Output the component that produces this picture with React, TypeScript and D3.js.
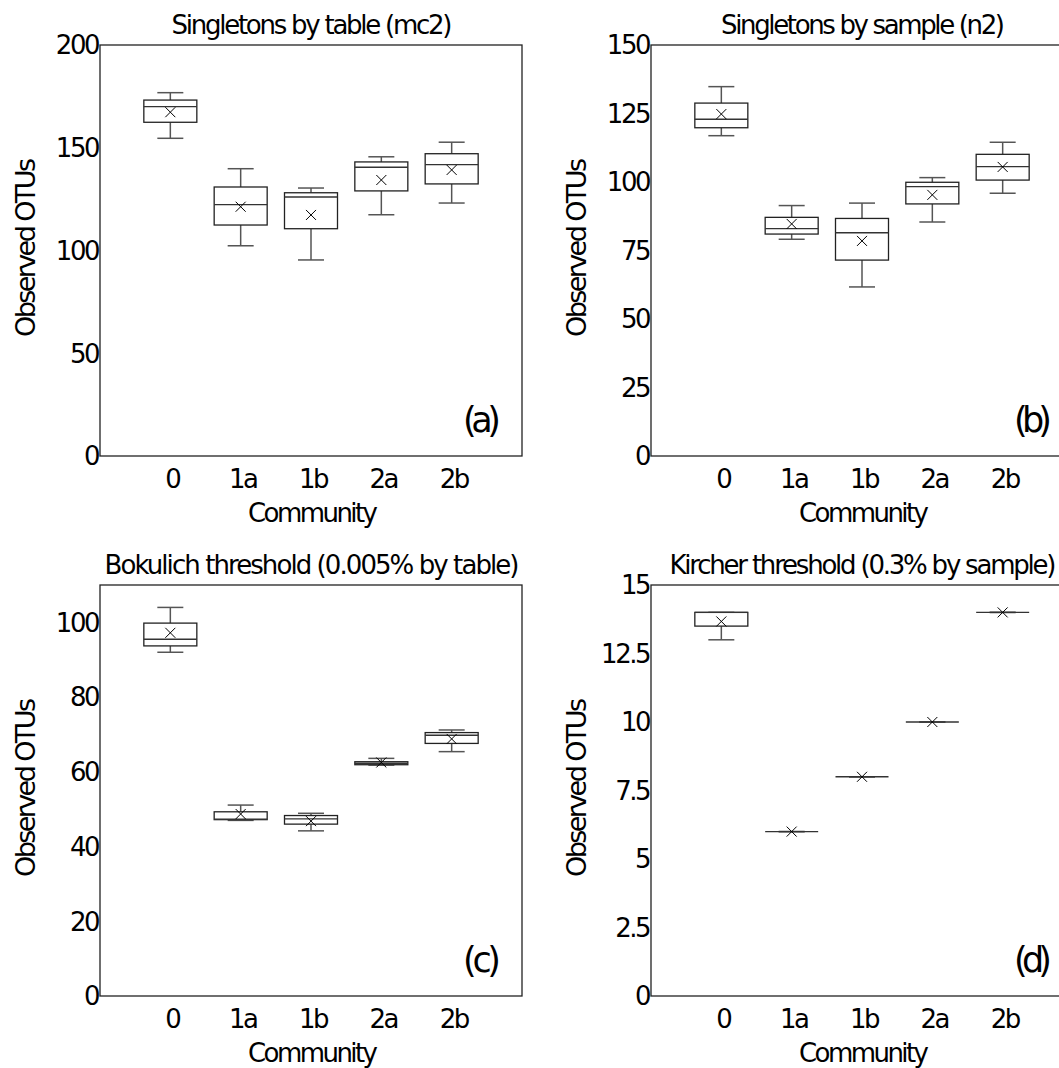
import React from "react";
import * as d3 from "d3";

const categories = ["0", "1a", "1b", "2a", "2b"];

// Panel (a) Singletons by table (mc2)
const aMin = [154.6, 102.3, 95.4, 117.4, 123.1];
const aQ1 = [162.4, 112.4, 110.6, 129.0, 132.4];
const aMed = [170.0, 122.3, 126.0, 140.5, 141.8];
const aQ3 = [173.2, 130.9, 128.1, 143.1, 147.1];
const aMax = [176.8, 139.8, 130.4, 145.6, 152.7];
const aMean = [167.3, 121.3, 117.3, 134.3, 139.2];
const aTicks = [0, 50, 100, 150, 200];

// Panel (b) Singletons by sample (n2)
const bMin = [116.9, 79.1, 61.7, 85.4, 95.9];
const bQ1 = [119.8, 81.0, 71.5, 92.0, 100.7];
const bMed = [122.9, 83.0, 81.5, 98.3, 105.6];
const bQ3 = [128.8, 87.1, 86.7, 99.9, 110.1];
const bMax = [134.8, 91.4, 92.3, 101.6, 114.5];
const bMean = [124.8, 84.7, 78.5, 95.3, 105.5];
const bTicks = [0, 25, 50, 75, 100, 125, 150];

// Panel (c) Bokulich threshold
const cMin = [92.0, 47.0, 44.2, 61.8, 65.4];
const cQ1 = [93.7, 47.2, 46.0, 61.9, 67.6];
const cMed = [95.5, 47.3, 47.4, 62.3, 69.8];
const cQ3 = [99.8, 49.3, 48.3, 62.7, 70.5];
const cMax = [104.0, 51.1, 48.9, 63.6, 71.2];
const cMean = [97.2, 48.7, 46.8, 62.5, 68.8];
const cTicks = [0, 20, 40, 60, 80, 100];

// Panel (d) Kircher threshold
const dMin = [13, 6, 8, 10, 14];
const dQ1 = [13.5, 6, 8, 10, 14];
const dMed = [14, 6, 8, 10, 14];
const dQ3 = [14, 6, 8, 10, 14];
const dMax = [14, 6, 8, 10, 14];
const dMean = [13.67, 6, 8, 10, 14];
const dTicks = [0, 2.5, 5, 7.5, 10, 12.5, 15];

const titles = [
  "Singletons by table (mc2)",
  "Singletons by sample (n2)",
  "Bokulich threshold (0.005% by table)",
  "Kircher threshold (0.3% by sample)",
];
const panelLetters = ["(a)", "(b)", "(c)", "(d)"];
const yLabel = "Observed OTUs";
const xLabel = "Community";

const panelData = [
  { min: aMin, q1: aQ1, med: aMed, q3: aQ3, max: aMax, mean: aMean, ticks: aTicks, yMax: 200 },
  { min: bMin, q1: bQ1, med: bMed, q3: bQ3, max: bMax, mean: bMean, ticks: bTicks, yMax: 150 },
  { min: cMin, q1: cQ1, med: cMed, q3: cQ3, max: cMax, mean: cMean, ticks: cTicks, yMax: 110 },
  { min: dMin, q1: dQ1, med: dMed, q3: dQ3, max: dMax, mean: dMean, ticks: dTicks, yMax: 15 },
];

// layout (positions only)
const layout = [
  { left: 100, top: 45, titleW: 281 },
  { left: 651, top: 45, titleW: 284 },
  { left: 100, top: 585, titleW: 415 },
  { left: 651, top: 585, titleW: 387 },
];
const FW = 422;
const FH = 411;
const FONT = "'DejaVu Sans', Verdana, sans-serif";

function Panel({ idx }: { idx: number }) {
  const p = panelData[idx];
  const L = layout[idx];
  const x = d3.scaleLinear().domain([0, categories.length + 1]).range([L.left, L.left + FW]);
  const y = d3.scaleLinear().domain([0, p.yMax]).range([L.top + FH, L.top]);
  const boxW = 53;
  const capW = 26;
  const cxFrame = L.left + FW / 2;
  const bottom = L.top + FH;
  return (
    <g>
      <rect x={L.left} y={L.top} width={FW} height={FH} fill="none" stroke="#222" strokeWidth={1.3} />
      {categories.map((c, i) => {
        const cx = x(i + 1);
        const m = 5;
        return (
          <g key={c}>
            <line x1={cx} x2={cx} y1={y(p.max[i])} y2={y(p.q3[i])} stroke="#555" strokeWidth={1.5} />
            <line x1={cx} x2={cx} y1={y(p.q1[i])} y2={y(p.min[i])} stroke="#555" strokeWidth={1.5} />
            <line x1={cx - capW / 2} x2={cx + capW / 2} y1={y(p.max[i])} y2={y(p.max[i])} stroke="#555" strokeWidth={1.5} />
            <line x1={cx - capW / 2} x2={cx + capW / 2} y1={y(p.min[i])} y2={y(p.min[i])} stroke="#555" strokeWidth={1.5} />
            <rect
              x={cx - boxW / 2}
              y={y(p.q3[i])}
              width={boxW}
              height={Math.max(0, y(p.q1[i]) - y(p.q3[i]))}
              fill="white"
              stroke="#222"
              strokeWidth={1.3}
            />
            <line x1={cx - boxW / 2} x2={cx + boxW / 2} y1={y(p.med[i])} y2={y(p.med[i])} stroke="#333" strokeWidth={1.4} />
            <line x1={cx - m} x2={cx + m} y1={y(p.mean[i]) - m} y2={y(p.mean[i]) + m} stroke="#000" strokeWidth={1} />
            <line x1={cx - m} x2={cx + m} y1={y(p.mean[i]) + m} y2={y(p.mean[i]) - m} stroke="#000" strokeWidth={1} />
            <text
              x={cx + 2}
              y={bottom + 32}
              textAnchor="middle"
              fontSize={26}
              letterSpacing={-2.5}
              fontFamily={FONT}
              fill="#000"
            >
              {c}
            </text>
          </g>
        );
      })}
      {p.ticks.map((t) => (
        <text
          key={t}
          x={L.left - 2}
          y={y(t)}
          dy="0.36em"
          textAnchor="end"
          fontSize={26}
          letterSpacing={-2.5}
          fontFamily={FONT}
          fill="#000"
        >
          {String(t)}
        </text>
      ))}
      <text
        x={cxFrame + 1}
        y={L.top - 11}
        textAnchor="middle"
        fontSize={26}
        fontFamily={FONT}
        textLength={L.titleW}
        lengthAdjust="spacing"
        fill="#000"
      >
        {titles[idx]}
      </text>
      <text
        transform={`translate(${L.left - 65},${L.top + FH / 2 - 3}) rotate(-90)`}
        textAnchor="middle"
        fontSize={27}
        fontFamily={FONT}
        textLength={179}
        lengthAdjust="spacing"
        fill="#000"
      >
        {yLabel}
      </text>
      <text
        x={cxFrame + 2}
        y={bottom + 66}
        textAnchor="middle"
        fontSize={26}
        fontFamily={FONT}
        textLength={130}
        lengthAdjust="spacing"
        fill="#000"
      >
        {xLabel}
      </text>
      <text
        x={L.left + FW - 21}
        y={bottom - 24}
        textAnchor="end"
        fontSize={35}
        fontFamily={FONT}
        textLength={38}
        lengthAdjust="spacing"
        fill="#000"
      >
        {panelLetters[idx]}
      </text>
    </g>
  );
}

export default function App() {
  return (
    <svg
      width={1059}
      height={1068}
      style={{ position: "absolute", left: 0, top: 0, background: "#fff" }}
    >
      <rect x={0} y={0} width={1059} height={1068} fill="#fff" />
      {[0, 1, 2, 3].map((i) => (
        <Panel key={i} idx={i} />
      ))}
    </svg>
  );
}
